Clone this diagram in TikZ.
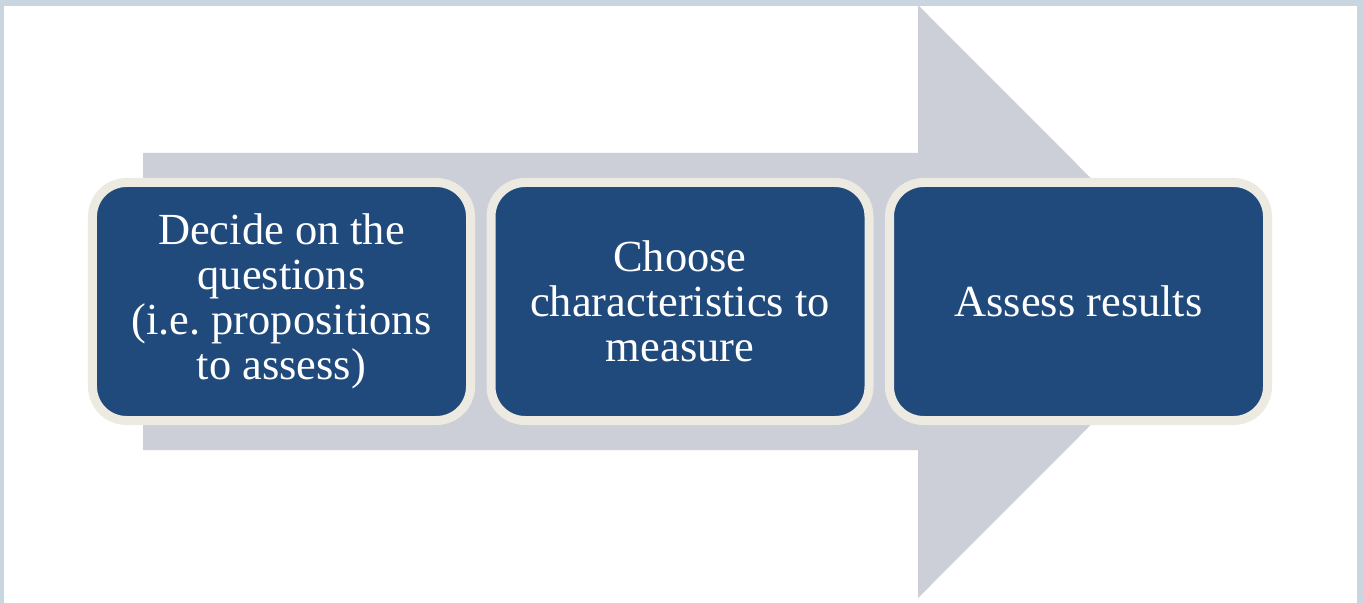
\documentclass[tikz,border=0pt]{standalone}
\usepackage{fontspec}
\setmainfont{Liberation Serif}
\frenchspacing
\definecolor{framecol}{HTML}{C9D6E0}
\definecolor{arrowgray}{HTML}{CCCFD8}
\definecolor{stepblue}{HTML}{214A7C}
\definecolor{stepedge}{HTML}{EDEBE1}
\tikzset{
  stepbox/.style={draw=stepedge, line width=9bp, fill=stepblue, rounded corners=34bp,
    minimum width=378bp, minimum height=238bp, inner sep=0pt, align=center,
    text=white, font=\fontsize{44.6}{45}\selectfont}
}
\begin{document}
\begin{tikzpicture}[x=1bp,y=-1bp]
  \useasboundingbox (0,0) rectangle (1363,603);
  % frame and page
  \fill[framecol] (0,0) rectangle (1363,603);
  \fill[white] (4,6) rectangle (1357,603);
  % large process arrow behind the steps
  \fill[arrowgray] (143,153) -- (918,153) -- (918,5) -- (1214,301.5)
    -- (918,598) -- (918,450) -- (143,450) -- cycle;
  % the three steps
  \node[stepbox] (decide) at (281.5,301.5) {Decide on the\\questions\\(i.e. propositions\\to assess)};
  \node[stepbox] (choose) at (680,301.5) {Choose\\characteristics to\\measure};
  \node[stepbox] (assess) at (1078.5,301.5) {Assess results};
\end{tikzpicture}
\end{document}
